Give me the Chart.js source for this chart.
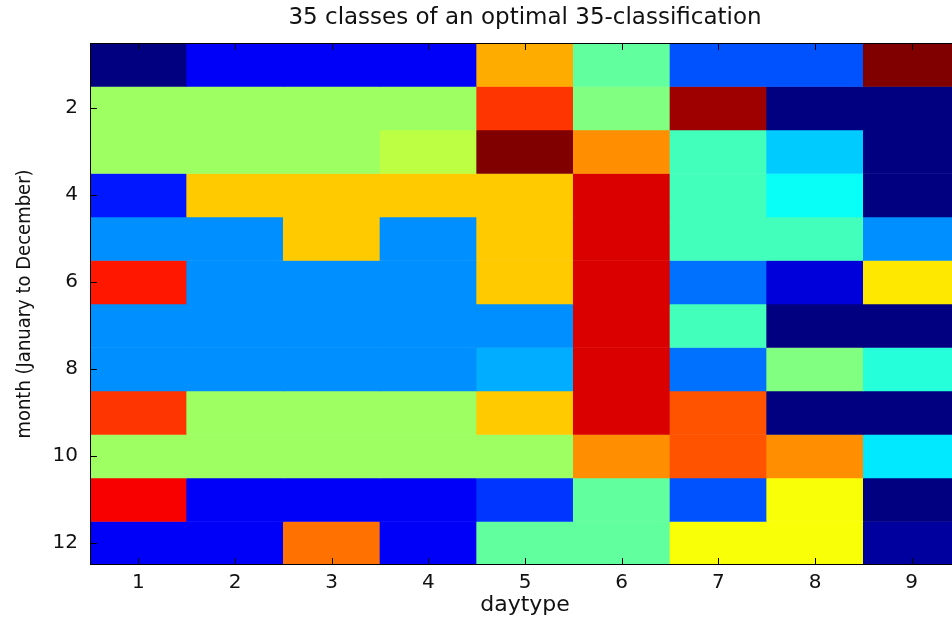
<!DOCTYPE html>
<html>
<head>
<meta charset="utf-8">
<script src="https://cdn.jsdelivr.net/npm/chart.js@4/dist/chart.umd.min.js"></script>
<style>
  html, body { margin: 0; padding: 0; overflow: hidden; background: #fff; }
  canvas { display: block; }
</style>
</head>
<body>
<canvas id="classes" width="960" height="621"></canvas>
<script>
// class number (1..35) of every month / daytype cell
const daytypes = ['1', '2', '3', '4', '5', '6', '7', '8', '9'];
const months = [1, 2, 3, 4, 5, 6, 7, 8, 9, 10, 11, 12];
const yTicks = [2, 4, 6, 8, 10, 12];
const nClasses = 35;

const jan = [1, 5, 5, 5, 25, 17, 8, 8, 35];
const feb = [19, 19, 19, 19, 29, 18, 34, 1, 1];
const mar = [19, 19, 19, 20, 35, 26, 16, 12, 1];
const apr = [6, 24, 24, 24, 24, 32, 16, 14, 1];
const may = [10, 10, 24, 10, 24, 32, 16, 16, 10];
const jun = [30, 10, 10, 10, 24, 32, 9, 4, 23];
const jul = [10, 10, 10, 10, 10, 32, 16, 1, 1];
const aug = [10, 10, 10, 10, 11, 32, 9, 18, 15];
const sep = [29, 19, 19, 19, 24, 32, 28, 1, 1];
const oct = [19, 19, 19, 19, 19, 26, 28, 26, 13];
const nov = [31, 5, 5, 5, 7, 17, 8, 22, 1];
const dec = [5, 5, 27, 5, 17, 17, 22, 22, 2];

const rows = [jan, feb, mar, apr, may, jun, jul, aug, sep, oct, nov, dec];

// matlab style jet colormap
function jet(k) {
  const t = (k - 1) / (nClasses - 1);
  const f = v => Math.round(255 * Math.min(1, Math.max(0, v)));
  const r = f(Math.min(4 * t - 1.5, 4.5 - 4 * t));
  const g = f(Math.min(4 * t - 0.5, 3.5 - 4 * t));
  const b = f(Math.min(4 * t + 0.5, 2.5 - 4 * t));
  return 'rgb(' + r + ',' + g + ',' + b + ')';
}

const insideTicks = {
  id: 'insideTicks',
  afterDatasetsDraw(chart) {
    const { ctx, chartArea: a, scales: { x, y } } = chart;
    const len = 7;
    ctx.save();
    ctx.strokeStyle = '#000';
    ctx.lineWidth = 1;
    ctx.beginPath();
    x.ticks.forEach((t, i) => {
      const px = Math.round(x.getPixelForTick(i)) + 0.5;
      ctx.moveTo(px, a.bottom); ctx.lineTo(px, a.bottom - len);
      ctx.moveTo(px, a.top); ctx.lineTo(px, a.top + len);
    });
    y.ticks.forEach(t => {
      const py = Math.round(y.getPixelForValue(t.value)) + 0.5;
      ctx.moveTo(a.left, py); ctx.lineTo(a.left + len, py);
      ctx.moveTo(a.right, py); ctx.lineTo(a.right - len, py);
    });
    ctx.stroke();
    ctx.strokeRect(Math.round(a.left) + 0.5, Math.round(a.top) + 0.5,
      Math.round(a.right - a.left) - 1, Math.round(a.bottom - a.top) - 1);
    ctx.restore();
  }
};

const txt = '#111';
const family = "'DejaVu Sans', sans-serif";

new Chart(document.getElementById('classes'), {
  type: 'bar',
  data: {
    labels: daytypes,
    datasets: rows.map((row, i) => ({
      label: 'month ' + months[i],
      data: row.map(() => [months[i] - 0.5, months[i] + 0.5]),
      backgroundColor: row.map(jet),
      borderWidth: 0,
      barPercentage: 1,
      categoryPercentage: 1,
      grouped: false
    }))
  },
  options: {
    responsive: false,
    animation: false,
    layout: { padding: 0 },
    plugins: {
      legend: { display: false },
      tooltip: { enabled: false },
      title: {
        display: true,
        fullSize: false,
        text: '35 classes of an optimal 35-classification',
        color: txt,
        font: { family: family, size: 23, weight: 'normal' },
        padding: { top: 4, bottom: 11.4 }
      }
    },
    scales: {
      x: {
        type: 'category',
        offset: true,
        grid: { display: false, drawTicks: false },
        border: { display: false },
        ticks: { color: txt, font: { family: family, size: 20 }, padding: 6, maxRotation: 0 },
        title: {
          display: true,
          text: 'daytype',
          color: txt,
          font: { family: family, size: 22 },
          padding: { top: 0, bottom: 3 }
        },
        afterFit(s) { s.height = 56; }
      },
      y: {
        type: 'linear',
        reverse: true,
        min: 0.5,
        max: 12.5,
        afterBuildTicks(s) { s.ticks = yTicks.map(v => ({ value: v })); },
        grid: { display: false, drawTicks: false },
        border: { display: false },
        ticks: { color: txt, font: { family: family, size: 20 }, padding: 12 },
        title: {
          display: true,
          text: 'month (January to December)',
          color: txt,
          font: { family: "'DejaVu Sans Condensed', 'Liberation Sans Narrow', 'DejaVu Sans', sans-serif", size: 20 },
          padding: { top: 13, bottom: 0 }
        },
        afterFit(s) { s.width = 90; }
      }
    }
  },
  plugins: [insideTicks]
});
</script>
</body>
</html>
